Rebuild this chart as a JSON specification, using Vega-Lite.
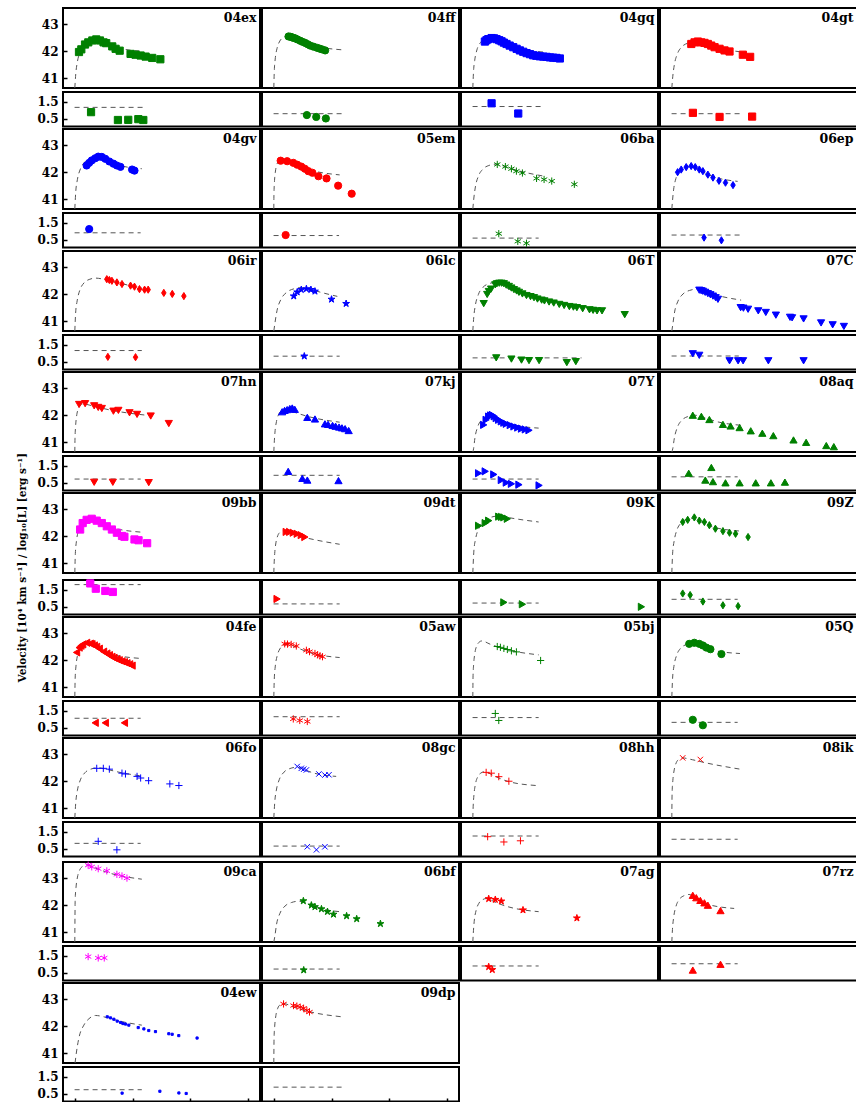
{
"$schema": "https://vega.github.io/schema/vega-lite/v6.json",
"background": "white",
"padding": {"left": 17, "top": 7, "right": 0, "bottom": 0},
"title": {"text": "Velocity [10⁴ km s⁻¹] / log₁₀[L] [erg s⁻¹]", "orient": "left", "anchor": "middle", "font": "DejaVu Serif", "fontSize": 10.5, "fontWeight": "bold", "color": "black", "offset": 9},
"data": {"values": [
{"s":"04ex","k":"m","t":0.2,"y":40.63},{"s":"04ex","k":"m","t":1,"y":41.15},{"s":"04ex","k":"m","t":2.4,"y":41.6},{"s":"04ex","k":"m","t":5,"y":42.0},{"s":"04ex","k":"m","t":9,"y":42.27},{"s":"04ex","k":"m","t":14,"y":42.4},{"s":"04ex","k":"m","t":20,"y":42.45},{"s":"04ex","k":"m","t":28,"y":42.3},{"s":"04ex","k":"m","t":35,"y":42.15},{"s":"04ex","k":"m","t":58,"y":42.0},
{"s":"04ff","k":"m","t":0.2,"y":40.63},{"s":"04ff","k":"m","t":0.6,"y":41.26},{"s":"04ff","k":"m","t":1.4,"y":41.71},{"s":"04ff","k":"m","t":3,"y":42.11},{"s":"04ff","k":"m","t":5.4,"y":42.38},{"s":"04ff","k":"m","t":8.4,"y":42.51},{"s":"04ff","k":"m","t":12,"y":42.56},{"s":"04ff","k":"m","t":20,"y":42.42},{"s":"04ff","k":"m","t":30,"y":42.25},{"s":"04ff","k":"m","t":60,"y":42.05},
{"s":"04gq","k":"m","t":0.2,"y":40.63},{"s":"04gq","k":"m","t":0.75,"y":41.2},{"s":"04gq","k":"m","t":1.8,"y":41.65},{"s":"04gq","k":"m","t":3.75,"y":42.05},{"s":"04gq","k":"m","t":6.75,"y":42.32},{"s":"04gq","k":"m","t":10.5,"y":42.45},{"s":"04gq","k":"m","t":15,"y":42.5},{"s":"04gq","k":"m","t":25,"y":42.32},{"s":"04gq","k":"m","t":35,"y":42.15},{"s":"04gq","k":"m","t":61,"y":41.97},
{"s":"04gt","k":"m","t":0.2,"y":40.63},{"s":"04gt","k":"m","t":1,"y":41.05},{"s":"04gt","k":"m","t":2.4,"y":41.5},{"s":"04gt","k":"m","t":5,"y":41.9},{"s":"04gt","k":"m","t":9,"y":42.17},{"s":"04gt","k":"m","t":14,"y":42.3},{"s":"04gt","k":"m","t":20,"y":42.35},{"s":"04gt","k":"m","t":30,"y":42.25},{"s":"04gt","k":"m","t":40,"y":42.12},{"s":"04gt","k":"m","t":61,"y":41.97},
{"s":"04gv","k":"m","t":0.2,"y":40.63},{"s":"04gv","k":"m","t":1,"y":41.27},{"s":"04gv","k":"m","t":2.4,"y":41.72},{"s":"04gv","k":"m","t":5,"y":42.12},{"s":"04gv","k":"m","t":9,"y":42.39},{"s":"04gv","k":"m","t":14,"y":42.52},{"s":"04gv","k":"m","t":20,"y":42.57},{"s":"04gv","k":"m","t":27,"y":42.47},{"s":"04gv","k":"m","t":35,"y":42.3},{"s":"04gv","k":"m","t":58,"y":42.13},
{"s":"05em","k":"m","t":0.2,"y":40.63},{"s":"05em","k":"m","t":0.3,"y":41.15},{"s":"05em","k":"m","t":0.7,"y":41.6},{"s":"05em","k":"m","t":1.5,"y":42.0},{"s":"05em","k":"m","t":2.7,"y":42.27},{"s":"05em","k":"m","t":4.2,"y":42.4},{"s":"05em","k":"m","t":6,"y":42.45},{"s":"05em","k":"m","t":15,"y":42.35},{"s":"05em","k":"m","t":30,"y":42.1},{"s":"05em","k":"m","t":57,"y":41.9},
{"s":"06ba","k":"m","t":0.2,"y":40.63},{"s":"06ba","k":"m","t":1,"y":41.0},{"s":"06ba","k":"m","t":2.4,"y":41.45},{"s":"06ba","k":"m","t":5,"y":41.85},{"s":"06ba","k":"m","t":9,"y":42.12},{"s":"06ba","k":"m","t":14,"y":42.25},{"s":"06ba","k":"m","t":20,"y":42.3},{"s":"06ba","k":"m","t":30,"y":42.18},{"s":"06ba","k":"m","t":40,"y":42.05},{"s":"06ba","k":"m","t":62,"y":41.85},
{"s":"06ep","k":"m","t":0.2,"y":40.63},{"s":"06ep","k":"m","t":0.75,"y":40.92},{"s":"06ep","k":"m","t":1.8,"y":41.37},{"s":"06ep","k":"m","t":3.75,"y":41.77},{"s":"06ep","k":"m","t":6.75,"y":42.04},{"s":"06ep","k":"m","t":10.5,"y":42.17},{"s":"06ep","k":"m","t":15,"y":42.22},{"s":"06ep","k":"m","t":25,"y":42.05},{"s":"06ep","k":"m","t":35,"y":41.85},{"s":"06ep","k":"m","t":57,"y":41.66},
{"s":"06ir","k":"m","t":0.2,"y":40.63},{"s":"06ir","k":"m","t":0.9,"y":41.3},{"s":"06ir","k":"m","t":2.2,"y":41.75},{"s":"06ir","k":"m","t":4.5,"y":42.15},{"s":"06ir","k":"m","t":8.1,"y":42.42},{"s":"06ir","k":"m","t":12.6,"y":42.55},{"s":"06ir","k":"m","t":18,"y":42.6},{"s":"06ir","k":"m","t":28,"y":42.53},{"s":"06ir","k":"m","t":40,"y":42.4},{"s":"06ir","k":"m","t":58,"y":42.23},
{"s":"06lc","k":"m","t":0.2,"y":40.63},{"s":"06lc","k":"m","t":1.25,"y":40.95},{"s":"06lc","k":"m","t":3,"y":41.4},{"s":"06lc","k":"m","t":6.25,"y":41.8},{"s":"06lc","k":"m","t":11.25,"y":42.07},{"s":"06lc","k":"m","t":17.5,"y":42.2},{"s":"06lc","k":"m","t":25,"y":42.25},{"s":"06lc","k":"m","t":32,"y":42.18},{"s":"06lc","k":"m","t":40,"y":42.08},{"s":"06lc","k":"m","t":55,"y":41.92},
{"s":"06T","k":"m","t":0.2,"y":40.63},{"s":"06T","k":"m","t":1,"y":41.14},{"s":"06T","k":"m","t":2.4,"y":41.59},{"s":"06T","k":"m","t":5,"y":41.99},{"s":"06T","k":"m","t":9,"y":42.26},{"s":"06T","k":"m","t":14,"y":42.39},{"s":"06T","k":"m","t":20,"y":42.44},{"s":"06T","k":"m","t":30,"y":42.22},{"s":"06T","k":"m","t":45,"y":41.97},{"s":"06T","k":"m","t":70,"y":41.7},{"s":"06T","k":"m","t":96,"y":41.5},
{"s":"07C","k":"m","t":0.2,"y":40.63},{"s":"07C","k":"m","t":1.1,"y":40.89},{"s":"07C","k":"m","t":2.6,"y":41.34},{"s":"07C","k":"m","t":5.5,"y":41.74},{"s":"07C","k":"m","t":9.9,"y":42.01},{"s":"07C","k":"m","t":15.4,"y":42.14},{"s":"07C","k":"m","t":22,"y":42.19},{"s":"07C","k":"m","t":30,"y":42.08},{"s":"07C","k":"m","t":40,"y":41.95},{"s":"07C","k":"m","t":60,"y":41.78},
{"s":"07hn","k":"m","t":0.2,"y":40.63},{"s":"07hn","k":"m","t":0.35,"y":41.12},{"s":"07hn","k":"m","t":0.84,"y":41.57},{"s":"07hn","k":"m","t":1.75,"y":41.97},{"s":"07hn","k":"m","t":3.15,"y":42.24},{"s":"07hn","k":"m","t":4.9,"y":42.37},{"s":"07hn","k":"m","t":7,"y":42.42},{"s":"07hn","k":"m","t":18,"y":42.32},{"s":"07hn","k":"m","t":30,"y":42.2},{"s":"07hn","k":"m","t":62,"y":42.0},
{"s":"07kj","k":"m","t":0.2,"y":40.63},{"s":"07kj","k":"m","t":0.5,"y":40.92},{"s":"07kj","k":"m","t":1.2,"y":41.37},{"s":"07kj","k":"m","t":2.5,"y":41.77},{"s":"07kj","k":"m","t":4.5,"y":42.04},{"s":"07kj","k":"m","t":7,"y":42.17},{"s":"07kj","k":"m","t":10,"y":42.22},{"s":"07kj","k":"m","t":20,"y":42.08},{"s":"07kj","k":"m","t":30,"y":41.95},{"s":"07kj","k":"m","t":57,"y":41.74},
{"s":"07Y","k":"m","t":0.3,"y":40.63},{"s":"07Y","k":"m","t":0.85,"y":40.75},{"s":"07Y","k":"m","t":2,"y":41.15},{"s":"07Y","k":"m","t":4.25,"y":41.55},{"s":"07Y","k":"m","t":7.65,"y":41.82},{"s":"07Y","k":"m","t":11.9,"y":41.95},{"s":"07Y","k":"m","t":17,"y":42.0},{"s":"07Y","k":"m","t":25,"y":41.82},{"s":"07Y","k":"m","t":35,"y":41.65},{"s":"07Y","k":"m","t":57,"y":41.52},
{"s":"08aq","k":"m","t":0.3,"y":40.63},{"s":"08aq","k":"m","t":1,"y":40.75},{"s":"08aq","k":"m","t":2.4,"y":41.15},{"s":"08aq","k":"m","t":5,"y":41.55},{"s":"08aq","k":"m","t":9,"y":41.82},{"s":"08aq","k":"m","t":14,"y":41.95},{"s":"08aq","k":"m","t":20,"y":42.0},{"s":"08aq","k":"m","t":30,"y":41.88},{"s":"08aq","k":"m","t":40,"y":41.75},{"s":"08aq","k":"m","t":62,"y":41.62},
{"s":"09bb","k":"m","t":0.2,"y":40.63},{"s":"09bb","k":"m","t":0.65,"y":41.35},{"s":"09bb","k":"m","t":1.56,"y":41.8},{"s":"09bb","k":"m","t":3.25,"y":42.2},{"s":"09bb","k":"m","t":5.85,"y":42.47},{"s":"09bb","k":"m","t":9.1,"y":42.6},{"s":"09bb","k":"m","t":13,"y":42.65},{"s":"09bb","k":"m","t":20,"y":42.52},{"s":"09bb","k":"m","t":30,"y":42.35},{"s":"09bb","k":"m","t":58,"y":42.15},
{"s":"09dt","k":"m","t":0.2,"y":40.63},{"s":"09dt","k":"m","t":0.4,"y":40.9},{"s":"09dt","k":"m","t":0.96,"y":41.35},{"s":"09dt","k":"m","t":2,"y":41.75},{"s":"09dt","k":"m","t":3.6,"y":42.02},{"s":"09dt","k":"m","t":5.6,"y":42.15},{"s":"09dt","k":"m","t":8,"y":42.2},{"s":"09dt","k":"m","t":18,"y":42.05},{"s":"09dt","k":"m","t":30,"y":41.92},{"s":"09dt","k":"m","t":57,"y":41.7},
{"s":"09K","k":"m","t":0.2,"y":40.63},{"s":"09K","k":"m","t":1.1,"y":41.45},{"s":"09K","k":"m","t":2.6,"y":41.9},{"s":"09K","k":"m","t":5.5,"y":42.3},{"s":"09K","k":"m","t":9.9,"y":42.57},{"s":"09K","k":"m","t":15.4,"y":42.7},{"s":"09K","k":"m","t":22,"y":42.75},{"s":"09K","k":"m","t":30,"y":42.7},{"s":"09K","k":"m","t":40,"y":42.63},{"s":"09K","k":"m","t":57,"y":42.53},
{"s":"09Z","k":"m","t":0.2,"y":40.63},{"s":"09Z","k":"m","t":0.9,"y":41.37},{"s":"09Z","k":"m","t":2.2,"y":41.82},{"s":"09Z","k":"m","t":4.5,"y":42.22},{"s":"09Z","k":"m","t":8.1,"y":42.49},{"s":"09Z","k":"m","t":12.6,"y":42.62},{"s":"09Z","k":"m","t":18,"y":42.67},{"s":"09Z","k":"m","t":26,"y":42.52},{"s":"09Z","k":"m","t":35,"y":42.35},{"s":"09Z","k":"m","t":60,"y":42.19},
{"s":"04fe","k":"m","t":0.2,"y":40.63},{"s":"04fe","k":"m","t":0.5,"y":41.33},{"s":"04fe","k":"m","t":1.2,"y":41.78},{"s":"04fe","k":"m","t":2.5,"y":42.18},{"s":"04fe","k":"m","t":4.5,"y":42.45},{"s":"04fe","k":"m","t":7,"y":42.58},{"s":"04fe","k":"m","t":10,"y":42.63},{"s":"04fe","k":"m","t":20,"y":42.45},{"s":"04fe","k":"m","t":30,"y":42.25},{"s":"04fe","k":"m","t":56,"y":42.07},
{"s":"05aw","k":"m","t":0.2,"y":40.63},{"s":"05aw","k":"m","t":0.6,"y":41.3},{"s":"05aw","k":"m","t":1.4,"y":41.75},{"s":"05aw","k":"m","t":3,"y":42.15},{"s":"05aw","k":"m","t":5.4,"y":42.42},{"s":"05aw","k":"m","t":8.4,"y":42.55},{"s":"05aw","k":"m","t":12,"y":42.6},{"s":"05aw","k":"m","t":20,"y":42.47},{"s":"05aw","k":"m","t":30,"y":42.3},{"s":"05aw","k":"m","t":57,"y":42.1},
{"s":"05bj","k":"m","t":0.2,"y":40.63},{"s":"05bj","k":"m","t":0.4,"y":41.42},{"s":"05bj","k":"m","t":0.96,"y":41.87},{"s":"05bj","k":"m","t":2,"y":42.27},{"s":"05bj","k":"m","t":3.6,"y":42.54},{"s":"05bj","k":"m","t":5.6,"y":42.67},{"s":"05bj","k":"m","t":8,"y":42.72},{"s":"05bj","k":"m","t":15,"y":42.6},{"s":"05bj","k":"m","t":25,"y":42.45},{"s":"05bj","k":"m","t":57,"y":42.2},
{"s":"05Q","k":"m","t":0.2,"y":40.63},{"s":"05Q","k":"m","t":0.85,"y":41.32},{"s":"05Q","k":"m","t":2,"y":41.77},{"s":"05Q","k":"m","t":4.25,"y":42.17},{"s":"05Q","k":"m","t":7.65,"y":42.44},{"s":"05Q","k":"m","t":11.9,"y":42.57},{"s":"05Q","k":"m","t":17,"y":42.62},{"s":"05Q","k":"m","t":25,"y":42.52},{"s":"05Q","k":"m","t":35,"y":42.38},{"s":"05Q","k":"m","t":59,"y":42.25},
{"s":"06fo","k":"m","t":0.2,"y":40.63},{"s":"06fo","k":"m","t":1,"y":41.2},{"s":"06fo","k":"m","t":2.4,"y":41.65},{"s":"06fo","k":"m","t":5,"y":42.05},{"s":"06fo","k":"m","t":9,"y":42.32},{"s":"06fo","k":"m","t":14,"y":42.45},{"s":"06fo","k":"m","t":20,"y":42.5},{"s":"06fo","k":"m","t":30,"y":42.42},{"s":"06fo","k":"m","t":40,"y":42.32},{"s":"06fo","k":"m","t":57,"y":42.2},
{"s":"08gc","k":"m","t":0.2,"y":40.63},{"s":"08gc","k":"m","t":1,"y":41.22},{"s":"08gc","k":"m","t":2.4,"y":41.67},{"s":"08gc","k":"m","t":5,"y":42.07},{"s":"08gc","k":"m","t":9,"y":42.34},{"s":"08gc","k":"m","t":14,"y":42.47},{"s":"08gc","k":"m","t":20,"y":42.52},{"s":"08gc","k":"m","t":27,"y":42.42},{"s":"08gc","k":"m","t":35,"y":42.3},{"s":"08gc","k":"m","t":54,"y":42.18},
{"s":"08hh","k":"m","t":0.2,"y":40.63},{"s":"08hh","k":"m","t":0.5,"y":41.05},{"s":"08hh","k":"m","t":1.2,"y":41.5},{"s":"08hh","k":"m","t":2.5,"y":41.9},{"s":"08hh","k":"m","t":4.5,"y":42.17},{"s":"08hh","k":"m","t":7,"y":42.3},{"s":"08hh","k":"m","t":10,"y":42.35},{"s":"08hh","k":"m","t":20,"y":42.17},{"s":"08hh","k":"m","t":30,"y":42.0},{"s":"08hh","k":"m","t":55,"y":41.84},
{"s":"08ik","k":"m","t":0.2,"y":40.63},{"s":"08ik","k":"m","t":0.45,"y":41.57},{"s":"08ik","k":"m","t":1.08,"y":42.02},{"s":"08ik","k":"m","t":2.25,"y":42.42},{"s":"08ik","k":"m","t":4.05,"y":42.69},{"s":"08ik","k":"m","t":6.3,"y":42.82},{"s":"08ik","k":"m","t":9,"y":42.87},{"s":"08ik","k":"m","t":18,"y":42.8},{"s":"08ik","k":"m","t":30,"y":42.68},{"s":"08ik","k":"m","t":59,"y":42.45},
{"s":"09ca","k":"m","t":0.2,"y":40.63},{"s":"09ca","k":"m","t":0.5,"y":42.2},{"s":"09ca","k":"m","t":1.2,"y":42.65},{"s":"09ca","k":"m","t":2.5,"y":43.05},{"s":"09ca","k":"m","t":4.5,"y":43.32},{"s":"09ca","k":"m","t":7,"y":43.45},{"s":"09ca","k":"m","t":10,"y":43.5},{"s":"09ca","k":"m","t":20,"y":43.35},{"s":"09ca","k":"m","t":30,"y":43.2},{"s":"09ca","k":"m","t":58,"y":42.97},
{"s":"06bf","k":"m","t":0.2,"y":40.63},{"s":"06bf","k":"m","t":1.1,"y":40.85},{"s":"06bf","k":"m","t":2.6,"y":41.3},{"s":"06bf","k":"m","t":5.5,"y":41.7},{"s":"06bf","k":"m","t":9.9,"y":41.97},{"s":"06bf","k":"m","t":15.4,"y":42.1},{"s":"06bf","k":"m","t":22,"y":42.15},{"s":"06bf","k":"m","t":30,"y":42.03},{"s":"06bf","k":"m","t":40,"y":41.88},{"s":"06bf","k":"m","t":57,"y":41.76},
{"s":"07ag","k":"m","t":0.2,"y":40.63},{"s":"07ag","k":"m","t":0.6,"y":40.95},{"s":"07ag","k":"m","t":1.4,"y":41.4},{"s":"07ag","k":"m","t":3,"y":41.8},{"s":"07ag","k":"m","t":5.4,"y":42.07},{"s":"07ag","k":"m","t":8.4,"y":42.2},{"s":"07ag","k":"m","t":12,"y":42.25},{"s":"07ag","k":"m","t":20,"y":42.1},{"s":"07ag","k":"m","t":30,"y":41.95},{"s":"07ag","k":"m","t":57,"y":41.76},
{"s":"07rz","k":"m","t":0.2,"y":40.63},{"s":"07rz","k":"m","t":0.75,"y":41.1},{"s":"07rz","k":"m","t":1.8,"y":41.55},{"s":"07rz","k":"m","t":3.75,"y":41.95},{"s":"07rz","k":"m","t":6.75,"y":42.22},{"s":"07rz","k":"m","t":10.5,"y":42.35},{"s":"07rz","k":"m","t":15,"y":42.4},{"s":"07rz","k":"m","t":22,"y":42.22},{"s":"07rz","k":"m","t":30,"y":42.05},{"s":"07rz","k":"m","t":54,"y":41.88},
{"s":"04ew","k":"m","t":0.4,"y":40.63},{"s":"04ew","k":"m","t":1.5,"y":41.0},{"s":"04ew","k":"m","t":3.7,"y":41.56},{"s":"04ew","k":"m","t":8,"y":42.04},{"s":"04ew","k":"m","t":12.4,"y":42.28},{"s":"04ew","k":"m","t":18,"y":42.4},{"s":"04ew","k":"m","t":28,"y":42.32},{"s":"04ew","k":"m","t":38,"y":42.2},{"s":"04ew","k":"m","t":58,"y":42.04},
{"s":"09dp","k":"m","t":0.2,"y":40.63},{"s":"09dp","k":"m","t":0.4,"y":41.55},{"s":"09dp","k":"m","t":0.96,"y":42.0},{"s":"09dp","k":"m","t":2,"y":42.4},{"s":"09dp","k":"m","t":3.6,"y":42.67},{"s":"09dp","k":"m","t":5.6,"y":42.8},{"s":"09dp","k":"m","t":8,"y":42.85},{"s":"09dp","k":"m","t":18,"y":42.7},{"s":"09dp","k":"m","t":30,"y":42.55},{"s":"09dp","k":"m","t":59,"y":42.35},
{"s":"04ex","k":"vm","t":0,"y":1.17},{"s":"04ex","k":"vm","t":61,"y":1.17},
{"s":"04ff","k":"vm","t":0,"y":0.8},{"s":"04ff","k":"vm","t":59,"y":0.8},
{"s":"04gq","k":"vm","t":0,"y":1.22},{"s":"04gq","k":"vm","t":59.5,"y":1.22},
{"s":"04gt","k":"vm","t":0,"y":0.8},{"s":"04gt","k":"vm","t":59,"y":0.8},
{"s":"04gv","k":"vm","t":0,"y":0.91},{"s":"04gv","k":"vm","t":57,"y":0.91},
{"s":"05em","k":"vm","t":0,"y":0.75},{"s":"05em","k":"vm","t":56.5,"y":0.75},
{"s":"06ba","k":"vm","t":0,"y":0.6},{"s":"06ba","k":"vm","t":57,"y":0.6},
{"s":"06ep","k":"vm","t":0,"y":0.78},{"s":"06ep","k":"vm","t":58.7,"y":0.78},
{"s":"06ir","k":"vm","t":0,"y":1.16},{"s":"06ir","k":"vm","t":58,"y":1.16},
{"s":"06lc","k":"vm","t":0,"y":0.83},{"s":"06lc","k":"vm","t":57,"y":0.83},
{"s":"06T","k":"vm","t":0,"y":0.73},{"s":"06T","k":"vm","t":94,"y":0.73},
{"s":"07C","k":"vm","t":0,"y":0.84},{"s":"07C","k":"vm","t":58,"y":0.84},
{"s":"07hn","k":"vm","t":0,"y":0.72},{"s":"07hn","k":"vm","t":57,"y":0.72},
{"s":"07kj","k":"vm","t":0,"y":0.94},{"s":"07kj","k":"vm","t":57,"y":0.94},
{"s":"07Y","k":"vm","t":0,"y":0.72},{"s":"07Y","k":"vm","t":57,"y":0.72},
{"s":"08aq","k":"vm","t":0,"y":0.85},{"s":"08aq","k":"vm","t":57,"y":0.85},
{"s":"09bb","k":"vm","t":0,"y":1.8},{"s":"09bb","k":"vm","t":57,"y":1.8},
{"s":"09dt","k":"vm","t":0,"y":0.67},{"s":"09dt","k":"vm","t":57,"y":0.67},
{"s":"09K","k":"vm","t":0,"y":0.72},{"s":"09K","k":"vm","t":57,"y":0.72},
{"s":"09Z","k":"vm","t":0,"y":0.94},{"s":"09Z","k":"vm","t":57,"y":0.94},
{"s":"04fe","k":"vm","t":0,"y":1.06},{"s":"04fe","k":"vm","t":57,"y":1.06},
{"s":"05aw","k":"vm","t":0,"y":1.15},{"s":"05aw","k":"vm","t":57,"y":1.15},
{"s":"05bj","k":"vm","t":0,"y":1.1},{"s":"05bj","k":"vm","t":57,"y":1.1},
{"s":"05Q","k":"vm","t":0,"y":0.82},{"s":"05Q","k":"vm","t":57,"y":0.82},
{"s":"06fo","k":"vm","t":0,"y":0.82},{"s":"06fo","k":"vm","t":57,"y":0.82},
{"s":"08gc","k":"vm","t":0,"y":0.66},{"s":"08gc","k":"vm","t":57,"y":0.66},
{"s":"08hh","k":"vm","t":0,"y":1.25},{"s":"08hh","k":"vm","t":57,"y":1.25},
{"s":"08ik","k":"vm","t":0,"y":1.06},{"s":"08ik","k":"vm","t":57,"y":1.06},
{"s":"06bf","k":"vm","t":0,"y":0.72},{"s":"06bf","k":"vm","t":57,"y":0.72},
{"s":"07ag","k":"vm","t":0,"y":0.9},{"s":"07ag","k":"vm","t":57,"y":0.9},
{"s":"07rz","k":"vm","t":0,"y":1.03},{"s":"07rz","k":"vm","t":57,"y":1.03},
{"s":"04ew","k":"vm","t":0,"y":0.74},{"s":"04ew","k":"vm","t":58,"y":0.74},
{"s":"09dp","k":"vm","t":0,"y":0.89},{"s":"09dp","k":"vm","t":59,"y":0.89},
{"s":"04ex","k":"d","t":3.8,"y":41.97},{"s":"04ex","k":"d","t":5.8,"y":42.07},{"s":"04ex","k":"d","t":9,"y":42.25},{"s":"04ex","k":"d","t":11.8,"y":42.33},{"s":"04ex","k":"d","t":15.3,"y":42.4},{"s":"04ex","k":"d","t":18.7,"y":42.44},{"s":"04ex","k":"d","t":21.9,"y":42.4},{"s":"04ex","k":"d","t":25,"y":42.33},{"s":"04ex","k":"d","t":27.3,"y":42.3},{"s":"04ex","k":"d","t":32.5,"y":42.18},{"s":"04ex","k":"d","t":35.4,"y":42.09},{"s":"04ex","k":"d","t":38.9,"y":42.02},{"s":"04ex","k":"d","t":48.3,"y":41.9},{"s":"04ex","k":"d","t":52.6,"y":41.87},{"s":"04ex","k":"d","t":57,"y":41.84},{"s":"04ex","k":"d","t":61.3,"y":41.8},{"s":"04ex","k":"d","t":67,"y":41.75},{"s":"04ex","k":"d","t":74,"y":41.7},
{"s":"04ex","k":"vd","t":14.2,"y":0.89},{"s":"04ex","k":"vd","t":37.4,"y":0.43},{"s":"04ex","k":"vd","t":46.3,"y":0.44},{"s":"04ex","k":"vd","t":55,"y":0.48},{"s":"04ex","k":"vd","t":59.3,"y":0.43},
{"s":"04ff","k":"d","t":12.9,"y":42.55},{"s":"04ff","k":"d","t":14.5,"y":42.54},{"s":"04ff","k":"d","t":15.8,"y":42.52},{"s":"04ff","k":"d","t":17,"y":42.5},{"s":"04ff","k":"d","t":18.7,"y":42.48},{"s":"04ff","k":"d","t":20.5,"y":42.44},{"s":"04ff","k":"d","t":23,"y":42.39},{"s":"04ff","k":"d","t":25,"y":42.35},{"s":"04ff","k":"d","t":27.3,"y":42.31},{"s":"04ff","k":"d","t":29.5,"y":42.26},{"s":"04ff","k":"d","t":31.6,"y":42.21},{"s":"04ff","k":"d","t":34.5,"y":42.17},{"s":"04ff","k":"d","t":37.4,"y":42.13},{"s":"04ff","k":"d","t":39.5,"y":42.1},{"s":"04ff","k":"d","t":41.7,"y":42.07},{"s":"04ff","k":"d","t":44.5,"y":42.03},
{"s":"04ff","k":"vd","t":28.7,"y":0.72},{"s":"04ff","k":"vd","t":36.8,"y":0.61},{"s":"04ff","k":"vd","t":45.1,"y":0.52},
{"s":"04gq","k":"d","t":10.6,"y":42.36},{"s":"04gq","k":"d","t":12,"y":42.41},{"s":"04gq","k":"d","t":13.5,"y":42.45},{"s":"04gq","k":"d","t":16.4,"y":42.49},{"s":"04gq","k":"d","t":18.5,"y":42.48},{"s":"04gq","k":"d","t":20.7,"y":42.45},{"s":"04gq","k":"d","t":23,"y":42.41},{"s":"04gq","k":"d","t":25,"y":42.37},{"s":"04gq","k":"d","t":27,"y":42.32},{"s":"04gq","k":"d","t":29.3,"y":42.27},{"s":"04gq","k":"d","t":32,"y":42.21},{"s":"04gq","k":"d","t":35.1,"y":42.15},{"s":"04gq","k":"d","t":38,"y":42.09},{"s":"04gq","k":"d","t":40.8,"y":42.03},{"s":"04gq","k":"d","t":43.7,"y":41.98},{"s":"04gq","k":"d","t":46.6,"y":41.93},{"s":"04gq","k":"d","t":49.5,"y":41.89},{"s":"04gq","k":"d","t":52.3,"y":41.85},{"s":"04gq","k":"d","t":55,"y":41.83},{"s":"04gq","k":"d","t":58,"y":41.81},{"s":"04gq","k":"d","t":61,"y":41.8},{"s":"04gq","k":"d","t":63.8,"y":41.79},{"s":"04gq","k":"d","t":66.7,"y":41.77},{"s":"04gq","k":"d","t":69.5,"y":41.76},{"s":"04gq","k":"d","t":72.4,"y":41.75},{"s":"04gq","k":"d","t":75.3,"y":41.73},
{"s":"04gq","k":"vd","t":16.4,"y":1.41},{"s":"04gq","k":"vd","t":39.4,"y":0.81},
{"s":"04gt","k":"d","t":17,"y":42.27},{"s":"04gt","k":"d","t":19.8,"y":42.33},{"s":"04gt","k":"d","t":22.7,"y":42.36},{"s":"04gt","k":"d","t":25.6,"y":42.33},{"s":"04gt","k":"d","t":28.4,"y":42.31},{"s":"04gt","k":"d","t":31.3,"y":42.27},{"s":"04gt","k":"d","t":34.2,"y":42.21},{"s":"04gt","k":"d","t":37.1,"y":42.15},{"s":"04gt","k":"d","t":41.4,"y":42.09},{"s":"04gt","k":"d","t":45.7,"y":42.03},{"s":"04gt","k":"d","t":50,"y":41.99},{"s":"04gt","k":"d","t":61.5,"y":41.87},{"s":"04gt","k":"d","t":67.8,"y":41.79},
{"s":"04gt","k":"vd","t":18.4,"y":0.85},{"s":"04gt","k":"vd","t":41.4,"y":0.61},{"s":"04gt","k":"vd","t":69.5,"y":0.63},
{"s":"04gv","k":"d","t":10.4,"y":42.25},{"s":"04gv","k":"d","t":12.6,"y":42.35},{"s":"04gv","k":"d","t":14.8,"y":42.44},{"s":"04gv","k":"d","t":17.8,"y":42.52},{"s":"04gv","k":"d","t":20.4,"y":42.58},{"s":"04gv","k":"d","t":23.5,"y":42.57},{"s":"04gv","k":"d","t":26.5,"y":42.5},{"s":"04gv","k":"d","t":30,"y":42.4},{"s":"04gv","k":"d","t":33.5,"y":42.32},{"s":"04gv","k":"d","t":36.5,"y":42.25},{"s":"04gv","k":"d","t":39.6,"y":42.2},{"s":"04gv","k":"d","t":49.6,"y":42.1},{"s":"04gv","k":"d","t":51.7,"y":42.06},
{"s":"04gv","k":"vd","t":12.6,"y":1.13},
{"s":"05em","k":"d","t":6.1,"y":42.43},{"s":"05em","k":"d","t":11.7,"y":42.41},{"s":"05em","k":"d","t":17,"y":42.35},{"s":"05em","k":"d","t":20.4,"y":42.28},{"s":"05em","k":"d","t":23.9,"y":42.21},{"s":"05em","k":"d","t":27,"y":42.13},{"s":"05em","k":"d","t":30,"y":42.04},{"s":"05em","k":"d","t":33.5,"y":41.98},{"s":"05em","k":"d","t":38.7,"y":41.85},{"s":"05em","k":"d","t":45.7,"y":41.77},{"s":"05em","k":"d","t":55.7,"y":41.5},{"s":"05em","k":"d","t":67.4,"y":41.2},
{"s":"05em","k":"vd","t":10.4,"y":0.78},
{"s":"06ba","k":"d","t":21.3,"y":42.29},{"s":"06ba","k":"d","t":28.3,"y":42.21},{"s":"06ba","k":"d","t":33.5,"y":42.13},{"s":"06ba","k":"d","t":37.8,"y":42.04},{"s":"06ba","k":"d","t":43,"y":41.97},{"s":"06ba","k":"d","t":55.2,"y":41.77},{"s":"06ba","k":"d","t":61.7,"y":41.73},{"s":"06ba","k":"d","t":68.3,"y":41.67},{"s":"06ba","k":"d","t":87.8,"y":41.55},
{"s":"06ba","k":"vd","t":22.6,"y":0.86},{"s":"06ba","k":"vd","t":39,"y":0.41},{"s":"06ba","k":"vd","t":46.5,"y":0.3},
{"s":"06ep","k":"d","t":5.2,"y":42.0},{"s":"06ep","k":"d","t":8.3,"y":42.1},{"s":"06ep","k":"d","t":12.6,"y":42.19},{"s":"06ep","k":"d","t":16.9,"y":42.23},{"s":"06ep","k":"d","t":20.4,"y":42.19},{"s":"06ep","k":"d","t":23.9,"y":42.1},{"s":"06ep","k":"d","t":27,"y":42.04},{"s":"06ep","k":"d","t":31.3,"y":41.91},{"s":"06ep","k":"d","t":35.7,"y":41.8},{"s":"06ep","k":"d","t":40.9,"y":41.68},{"s":"06ep","k":"d","t":46.5,"y":41.61},{"s":"06ep","k":"d","t":53,"y":41.52},
{"s":"06ep","k":"vd","t":28,"y":0.63},{"s":"06ep","k":"vd","t":43,"y":0.47},
{"s":"06ir","k":"d","t":27.8,"y":42.56},{"s":"06ir","k":"d","t":30,"y":42.53},{"s":"06ir","k":"d","t":32.2,"y":42.5},{"s":"06ir","k":"d","t":36.5,"y":42.44},{"s":"06ir","k":"d","t":40.9,"y":42.38},{"s":"06ir","k":"d","t":48.3,"y":42.32},{"s":"06ir","k":"d","t":51.7,"y":42.28},{"s":"06ir","k":"d","t":56,"y":42.19},{"s":"06ir","k":"d","t":60.4,"y":42.17},{"s":"06ir","k":"d","t":63.5,"y":42.17},{"s":"06ir","k":"d","t":77,"y":42.05},{"s":"06ir","k":"d","t":84.3,"y":42.01},{"s":"06ir","k":"d","t":94.3,"y":41.93},
{"s":"06ir","k":"vd","t":28.7,"y":0.79},{"s":"06ir","k":"vd","t":52.6,"y":0.77},
{"s":"06lc","k":"d","t":17.4,"y":41.93},{"s":"06lc","k":"d","t":20.4,"y":42.08},{"s":"06lc","k":"d","t":23.9,"y":42.17},{"s":"06lc","k":"d","t":28.3,"y":42.2},{"s":"06lc","k":"d","t":32.2,"y":42.17},{"s":"06lc","k":"d","t":35.7,"y":42.11},{"s":"06lc","k":"d","t":50,"y":41.81},{"s":"06lc","k":"d","t":62.6,"y":41.65},
{"s":"06lc","k":"vd","t":26.5,"y":0.83},
{"s":"06T","k":"d","t":9.6,"y":41.65},{"s":"06T","k":"d","t":12.6,"y":41.99},{"s":"06T","k":"d","t":14,"y":42.1},{"s":"06T","k":"d","t":16,"y":42.19},{"s":"06T","k":"d","t":19.6,"y":42.35},{"s":"06T","k":"d","t":21,"y":42.39},{"s":"06T","k":"d","t":23,"y":42.41},{"s":"06T","k":"d","t":25,"y":42.41},{"s":"06T","k":"d","t":27,"y":42.39},{"s":"06T","k":"d","t":29,"y":42.34},{"s":"06T","k":"d","t":31.3,"y":42.29},{"s":"06T","k":"d","t":33.5,"y":42.23},{"s":"06T","k":"d","t":35.7,"y":42.17},{"s":"06T","k":"d","t":38,"y":42.12},{"s":"06T","k":"d","t":40,"y":42.07},{"s":"06T","k":"d","t":43,"y":42.01},{"s":"06T","k":"d","t":46.5,"y":41.95},{"s":"06T","k":"d","t":50,"y":41.91},{"s":"06T","k":"d","t":53,"y":41.87},{"s":"06T","k":"d","t":56,"y":41.82},{"s":"06T","k":"d","t":59.6,"y":41.78},{"s":"06T","k":"d","t":62,"y":41.75},{"s":"06T","k":"d","t":66,"y":41.71},{"s":"06T","k":"d","t":70,"y":41.67},{"s":"06T","k":"d","t":74.8,"y":41.62},{"s":"06T","k":"d","t":79,"y":41.58},{"s":"06T","k":"d","t":83.5,"y":41.54},{"s":"06T","k":"d","t":87,"y":41.52},{"s":"06T","k":"d","t":90,"y":41.5},{"s":"06T","k":"d","t":95,"y":41.46},{"s":"06T","k":"d","t":100.9,"y":41.42},{"s":"06T","k":"d","t":104,"y":41.4},{"s":"06T","k":"d","t":107.4,"y":41.38},{"s":"06T","k":"d","t":111.7,"y":41.38},{"s":"06T","k":"d","t":131.3,"y":41.24},
{"s":"06T","k":"vd","t":20.4,"y":0.73},{"s":"06T","k":"vd","t":33.5,"y":0.66},{"s":"06T","k":"vd","t":42.2,"y":0.6},{"s":"06T","k":"vd","t":48.7,"y":0.57},{"s":"06T","k":"vd","t":57.4,"y":0.57},{"s":"06T","k":"vd","t":81.3,"y":0.45},{"s":"06T","k":"vd","t":89.1,"y":0.51},
{"s":"07C","k":"d","t":23.9,"y":42.15},{"s":"07C","k":"d","t":25.5,"y":42.13},{"s":"07C","k":"d","t":27,"y":42.11},{"s":"07C","k":"d","t":29,"y":42.07},{"s":"07C","k":"d","t":31.3,"y":42.02},{"s":"07C","k":"d","t":33.5,"y":41.98},{"s":"07C","k":"d","t":35.7,"y":41.93},{"s":"07C","k":"d","t":38,"y":41.87},{"s":"07C","k":"d","t":40,"y":41.81},{"s":"07C","k":"d","t":59.6,"y":41.5},{"s":"07C","k":"d","t":62,"y":41.48},{"s":"07C","k":"d","t":66,"y":41.44},{"s":"07C","k":"d","t":74.8,"y":41.38},{"s":"07C","k":"d","t":81.3,"y":41.32},{"s":"07C","k":"d","t":90,"y":41.22},{"s":"07C","k":"d","t":102.2,"y":41.14},{"s":"07C","k":"d","t":104,"y":41.12},{"s":"07C","k":"d","t":113.9,"y":41.08},{"s":"07C","k":"d","t":129,"y":40.93},{"s":"07C","k":"d","t":139,"y":40.86},{"s":"07C","k":"d","t":148.7,"y":40.8},
{"s":"07C","k":"vd","t":18.3,"y":0.97},{"s":"07C","k":"vd","t":23.9,"y":0.88},{"s":"07C","k":"vd","t":50,"y":0.56},{"s":"07C","k":"vd","t":57.4,"y":0.56},{"s":"07C","k":"vd","t":61.7,"y":0.56},{"s":"07C","k":"vd","t":83.5,"y":0.56},{"s":"07C","k":"vd","t":113.9,"y":0.56},
{"s":"07hn","k":"d","t":3.9,"y":42.4},{"s":"07hn","k":"d","t":9.1,"y":42.43},{"s":"07hn","k":"d","t":16.9,"y":42.35},{"s":"07hn","k":"d","t":20.4,"y":42.29},{"s":"07hn","k":"d","t":23.5,"y":42.25},{"s":"07hn","k":"d","t":33.5,"y":42.15},{"s":"07hn","k":"d","t":37.8,"y":42.18},{"s":"07hn","k":"d","t":47.4,"y":42.09},{"s":"07hn","k":"d","t":53.9,"y":42.03},{"s":"07hn","k":"d","t":65.7,"y":41.97},{"s":"07hn","k":"d","t":81.3,"y":41.69},
{"s":"07hn","k":"vd","t":16.9,"y":0.53},{"s":"07hn","k":"vd","t":33,"y":0.53},{"s":"07hn","k":"vd","t":64,"y":0.51},
{"s":"07kj","k":"d","t":7.4,"y":42.13},{"s":"07kj","k":"d","t":9.5,"y":42.18},{"s":"07kj","k":"d","t":11.7,"y":42.21},{"s":"07kj","k":"d","t":14,"y":42.25},{"s":"07kj","k":"d","t":16.1,"y":42.27},{"s":"07kj","k":"d","t":18.3,"y":42.22},{"s":"07kj","k":"d","t":29.1,"y":41.92},{"s":"07kj","k":"d","t":35.7,"y":41.86},{"s":"07kj","k":"d","t":44.3,"y":41.68},{"s":"07kj","k":"d","t":47,"y":41.66},{"s":"07kj","k":"d","t":50.9,"y":41.62},{"s":"07kj","k":"d","t":53.5,"y":41.59},{"s":"07kj","k":"d","t":56.5,"y":41.56},{"s":"07kj","k":"d","t":59,"y":41.53},{"s":"07kj","k":"d","t":61.7,"y":41.5},{"s":"07kj","k":"d","t":64.8,"y":41.43},
{"s":"07kj","k":"vd","t":12.6,"y":1.17},{"s":"07kj","k":"vd","t":24.8,"y":0.76},{"s":"07kj","k":"vd","t":29.1,"y":0.66},{"s":"07kj","k":"vd","t":56,"y":0.63},
{"s":"07Y","k":"d","t":9.6,"y":41.64},{"s":"07Y","k":"d","t":11.7,"y":41.83},{"s":"07Y","k":"d","t":13.9,"y":41.95},{"s":"07Y","k":"d","t":15.5,"y":41.99},{"s":"07Y","k":"d","t":17,"y":42.01},{"s":"07Y","k":"d","t":18.7,"y":41.96},{"s":"07Y","k":"d","t":20.4,"y":41.89},{"s":"07Y","k":"d","t":22.5,"y":41.83},{"s":"07Y","k":"d","t":24.8,"y":41.77},{"s":"07Y","k":"d","t":27,"y":41.72},{"s":"07Y","k":"d","t":29.1,"y":41.68},{"s":"07Y","k":"d","t":32.5,"y":41.63},{"s":"07Y","k":"d","t":35.7,"y":41.58},{"s":"07Y","k":"d","t":39,"y":41.54},{"s":"07Y","k":"d","t":42.2,"y":41.5},{"s":"07Y","k":"d","t":45.5,"y":41.47},{"s":"07Y","k":"d","t":48.7,"y":41.44},
{"s":"07Y","k":"vd","t":5.2,"y":1.06},{"s":"07Y","k":"vd","t":10.9,"y":1.17},{"s":"07Y","k":"vd","t":18.3,"y":0.99},{"s":"07Y","k":"vd","t":24.8,"y":0.66},{"s":"07Y","k":"vd","t":29.1,"y":0.51},{"s":"07Y","k":"vd","t":33.5,"y":0.44},{"s":"07Y","k":"vd","t":40,"y":0.39},{"s":"07Y","k":"vd","t":57.4,"y":0.35},
{"s":"08aq","k":"d","t":18.3,"y":42.0},{"s":"08aq","k":"d","t":25.7,"y":41.96},{"s":"08aq","k":"d","t":32.6,"y":41.84},{"s":"08aq","k":"d","t":44.3,"y":41.66},{"s":"08aq","k":"d","t":50.9,"y":41.6},{"s":"08aq","k":"d","t":58.7,"y":41.54},{"s":"08aq","k":"d","t":68.3,"y":41.42},{"s":"08aq","k":"d","t":78.3,"y":41.33},{"s":"08aq","k":"d","t":87.8,"y":41.24},{"s":"08aq","k":"d","t":105.2,"y":41.08},{"s":"08aq","k":"d","t":116.1,"y":40.99},{"s":"08aq","k":"d","t":133.5,"y":40.87},{"s":"08aq","k":"d","t":140,"y":40.83},
{"s":"08aq","k":"vd","t":14.8,"y":1.06},{"s":"08aq","k":"vd","t":29.1,"y":0.66},{"s":"08aq","k":"vd","t":34.3,"y":1.4},{"s":"08aq","k":"vd","t":35.7,"y":0.57},{"s":"08aq","k":"vd","t":46.5,"y":0.5},{"s":"08aq","k":"vd","t":58.7,"y":0.5},{"s":"08aq","k":"vd","t":72.6,"y":0.5},{"s":"08aq","k":"vd","t":85.7,"y":0.5},{"s":"08aq","k":"vd","t":97.8,"y":0.54},
{"s":"09bb","k":"d","t":4.8,"y":42.25},{"s":"09bb","k":"d","t":7,"y":42.49},{"s":"09bb","k":"d","t":10.4,"y":42.61},{"s":"09bb","k":"d","t":14.8,"y":42.65},{"s":"09bb","k":"d","t":19.1,"y":42.58},{"s":"09bb","k":"d","t":23.5,"y":42.49},{"s":"09bb","k":"d","t":27.8,"y":42.37},{"s":"09bb","k":"d","t":32.2,"y":42.25},{"s":"09bb","k":"d","t":36.5,"y":42.13},{"s":"09bb","k":"d","t":40.9,"y":42.01},{"s":"09bb","k":"d","t":43,"y":41.98},{"s":"09bb","k":"d","t":51.7,"y":41.88},{"s":"09bb","k":"d","t":55.2,"y":41.85},{"s":"09bb","k":"d","t":62.6,"y":41.74},
{"s":"09bb","k":"vd","t":13.5,"y":1.87},{"s":"09bb","k":"vd","t":18.3,"y":1.56},{"s":"09bb","k":"vd","t":26.5,"y":1.43},{"s":"09bb","k":"vd","t":33,"y":1.37},
{"s":"09dt","k":"d","t":10.9,"y":42.16},{"s":"09dt","k":"d","t":13.9,"y":42.16},{"s":"09dt","k":"d","t":17,"y":42.13},{"s":"09dt","k":"d","t":20.4,"y":42.09},{"s":"09dt","k":"d","t":23.9,"y":42.04},{"s":"09dt","k":"d","t":27,"y":41.97},
{"s":"09dt","k":"vd","t":3,"y":0.96},
{"s":"09K","k":"d","t":5.2,"y":42.39},{"s":"09K","k":"d","t":10.9,"y":42.49},{"s":"09K","k":"d","t":13.9,"y":42.58},{"s":"09K","k":"d","t":22.6,"y":42.73},{"s":"09K","k":"d","t":25,"y":42.72},{"s":"09K","k":"d","t":27,"y":42.7},{"s":"09K","k":"d","t":30,"y":42.65},
{"s":"09K","k":"vd","t":27,"y":0.76},{"s":"09K","k":"vd","t":43,"y":0.65},{"s":"09K","k":"vd","t":145.7,"y":0.5},
{"s":"09Z","k":"d","t":9.6,"y":42.53},{"s":"09Z","k":"d","t":13.9,"y":42.61},{"s":"09Z","k":"d","t":19.6,"y":42.7},{"s":"09Z","k":"d","t":23.9,"y":42.58},{"s":"09Z","k":"d","t":28.3,"y":42.53},{"s":"09Z","k":"d","t":32.6,"y":42.41},{"s":"09Z","k":"d","t":37.8,"y":42.28},{"s":"09Z","k":"d","t":44.3,"y":42.19},{"s":"09Z","k":"d","t":50,"y":42.13},{"s":"09Z","k":"d","t":55.2,"y":42.09},{"s":"09Z","k":"d","t":66,"y":41.97},
{"s":"09Z","k":"vd","t":9.6,"y":1.28},{"s":"09Z","k":"vd","t":16,"y":1.19},{"s":"09Z","k":"vd","t":27,"y":0.81},{"s":"09Z","k":"vd","t":44.3,"y":0.59},{"s":"09Z","k":"vd","t":57.4,"y":0.54},
{"s":"04fe","k":"d","t":1.7,"y":42.29},{"s":"04fe","k":"d","t":3.9,"y":42.47},{"s":"04fe","k":"d","t":5.5,"y":42.54},{"s":"04fe","k":"d","t":7,"y":42.59},{"s":"04fe","k":"d","t":10.4,"y":42.65},{"s":"04fe","k":"d","t":13.5,"y":42.62},{"s":"04fe","k":"d","t":15,"y":42.6},{"s":"04fe","k":"d","t":17,"y":42.55},{"s":"04fe","k":"d","t":19,"y":42.5},{"s":"04fe","k":"d","t":21.3,"y":42.43},{"s":"04fe","k":"d","t":25,"y":42.32},{"s":"04fe","k":"d","t":27.8,"y":42.25},{"s":"04fe","k":"d","t":30,"y":42.19},{"s":"04fe","k":"d","t":32.2,"y":42.13},{"s":"04fe","k":"d","t":34,"y":42.09},{"s":"04fe","k":"d","t":36.5,"y":42.04},{"s":"04fe","k":"d","t":38.5,"y":42.0},{"s":"04fe","k":"d","t":40.9,"y":41.96},{"s":"04fe","k":"d","t":43,"y":41.93},{"s":"04fe","k":"d","t":45.2,"y":41.89},{"s":"04fe","k":"d","t":47.5,"y":41.85},{"s":"04fe","k":"d","t":49.6,"y":41.8},
{"s":"04fe","k":"vd","t":17.8,"y":0.79},{"s":"04fe","k":"vd","t":26.5,"y":0.79},{"s":"04fe","k":"vd","t":43,"y":0.79},
{"s":"05aw","k":"d","t":9.6,"y":42.61},{"s":"05aw","k":"d","t":12,"y":42.6},{"s":"05aw","k":"d","t":15.2,"y":42.59},{"s":"05aw","k":"d","t":19.6,"y":42.53},{"s":"05aw","k":"d","t":28.3,"y":42.37},{"s":"05aw","k":"d","t":31,"y":42.32},{"s":"05aw","k":"d","t":35.7,"y":42.25},{"s":"05aw","k":"d","t":38,"y":42.2},{"s":"05aw","k":"d","t":40,"y":42.16},{"s":"05aw","k":"d","t":42.2,"y":42.13},
{"s":"05aw","k":"vd","t":17,"y":1.02},{"s":"05aw","k":"vd","t":22.6,"y":0.93},{"s":"05aw","k":"vd","t":29.1,"y":0.87},
{"s":"05bj","k":"d","t":21.3,"y":42.51},{"s":"05bj","k":"d","t":24,"y":42.48},{"s":"05bj","k":"d","t":27,"y":42.44},{"s":"05bj","k":"d","t":30,"y":42.4},{"s":"05bj","k":"d","t":33.5,"y":42.35},{"s":"05bj","k":"d","t":37.8,"y":42.31},{"s":"05bj","k":"d","t":58.7,"y":41.99},
{"s":"05bj","k":"vd","t":19.6,"y":1.34},{"s":"05bj","k":"vd","t":22.6,"y":0.93},
{"s":"05Q","k":"d","t":15.2,"y":42.61},{"s":"05Q","k":"d","t":19.6,"y":42.65},{"s":"05Q","k":"d","t":23.9,"y":42.61},{"s":"05Q","k":"d","t":27,"y":42.55},{"s":"05Q","k":"d","t":30,"y":42.47},{"s":"05Q","k":"d","t":33.5,"y":42.41},{"s":"05Q","k":"d","t":43,"y":42.23},
{"s":"05Q","k":"vd","t":18.3,"y":0.97},{"s":"05Q","k":"vd","t":27,"y":0.65},
{"s":"06fo","k":"d","t":19.1,"y":42.48},{"s":"06fo","k":"d","t":24.8,"y":42.48},{"s":"06fo","k":"d","t":30,"y":42.45},{"s":"06fo","k":"d","t":40.9,"y":42.3},{"s":"06fo","k":"d","t":43.9,"y":42.27},{"s":"06fo","k":"d","t":53.9,"y":42.18},{"s":"06fo","k":"d","t":57,"y":42.12},{"s":"06fo","k":"d","t":63.9,"y":42.02},{"s":"06fo","k":"d","t":82.2,"y":41.9},{"s":"06fo","k":"d","t":90,"y":41.84},
{"s":"06fo","k":"vd","t":20.4,"y":0.94},{"s":"06fo","k":"vd","t":36.5,"y":0.44},
{"s":"08gc","k":"d","t":20.4,"y":42.55},{"s":"08gc","k":"d","t":23.9,"y":42.48},{"s":"08gc","k":"d","t":26,"y":42.45},{"s":"08gc","k":"d","t":28.3,"y":42.42},{"s":"08gc","k":"d","t":39.1,"y":42.27},{"s":"08gc","k":"d","t":44.3,"y":42.23},{"s":"08gc","k":"d","t":47.8,"y":42.24},
{"s":"08gc","k":"vd","t":29.1,"y":0.62},{"s":"08gc","k":"vd","t":37,"y":0.44},{"s":"08gc","k":"vd","t":44.3,"y":0.62},
{"s":"08hh","k":"d","t":11.7,"y":42.33},{"s":"08hh","k":"d","t":16.1,"y":42.3},{"s":"08hh","k":"d","t":22.6,"y":42.17},{"s":"08hh","k":"d","t":31.3,"y":42.0},
{"s":"08hh","k":"vd","t":13,"y":1.21},{"s":"08hh","k":"vd","t":27,"y":0.9},{"s":"08hh","k":"vd","t":41.3,"y":0.97},
{"s":"08ik","k":"d","t":9.6,"y":42.87},{"s":"08ik","k":"d","t":24.8,"y":42.81},
{"s":"09ca","k":"d","t":11.7,"y":43.49},{"s":"09ca","k":"d","t":14.8,"y":43.43},{"s":"09ca","k":"d","t":20.4,"y":43.36},{"s":"09ca","k":"d","t":27.8,"y":43.28},{"s":"09ca","k":"d","t":36.5,"y":43.15},{"s":"09ca","k":"d","t":40.9,"y":43.09},{"s":"09ca","k":"d","t":45.2,"y":43.01},
{"s":"09ca","k":"vd","t":11.7,"y":1.45},{"s":"09ca","k":"vd","t":20.4,"y":1.37},{"s":"09ca","k":"vd","t":25.6,"y":1.37},
{"s":"06bf","k":"d","t":25.7,"y":42.16},{"s":"06bf","k":"d","t":32.6,"y":42.0},{"s":"06bf","k":"d","t":35.7,"y":41.94},{"s":"06bf","k":"d","t":41.3,"y":41.86},{"s":"06bf","k":"d","t":46.5,"y":41.76},{"s":"06bf","k":"d","t":51.7,"y":41.66},{"s":"06bf","k":"d","t":63,"y":41.6},{"s":"06bf","k":"d","t":71.7,"y":41.49},{"s":"06bf","k":"d","t":92.2,"y":41.31},
{"s":"06bf","k":"vd","t":26,"y":0.66},
{"s":"07ag","k":"d","t":13.9,"y":42.24},{"s":"07ag","k":"d","t":19.6,"y":42.21},{"s":"07ag","k":"d","t":24.8,"y":42.15},{"s":"07ag","k":"d","t":43.5,"y":41.82},{"s":"07ag","k":"d","t":90,"y":41.52},
{"s":"07ag","k":"vd","t":13.9,"y":0.85},{"s":"07ag","k":"vd","t":17,"y":0.68},
{"s":"07rz","k":"d","t":18.3,"y":42.37},{"s":"07rz","k":"d","t":21.3,"y":42.28},{"s":"07rz","k":"d","t":24.8,"y":42.18},{"s":"07rz","k":"d","t":28.3,"y":42.09},{"s":"07rz","k":"d","t":31.3,"y":42.0},{"s":"07rz","k":"d","t":42.2,"y":41.8},
{"s":"07rz","k":"vd","t":18.3,"y":0.66},{"s":"07rz","k":"vd","t":42.2,"y":1.0},
{"s":"04ew","k":"d","t":28.2,"y":42.35},{"s":"04ew","k":"d","t":31,"y":42.31},{"s":"04ew","k":"d","t":33.9,"y":42.26},{"s":"04ew","k":"d","t":36.8,"y":42.19},{"s":"04ew","k":"d","t":39.7,"y":42.14},{"s":"04ew","k":"d","t":41.7,"y":42.1},{"s":"04ew","k":"d","t":44,"y":42.08},{"s":"04ew","k":"d","t":46.8,"y":42.04},{"s":"04ew","k":"d","t":54.9,"y":41.95},{"s":"04ew","k":"d","t":59.8,"y":41.9},{"s":"04ew","k":"d","t":64,"y":41.84},{"s":"04ew","k":"d","t":69.8,"y":41.8},{"s":"04ew","k":"d","t":81.3,"y":41.72},{"s":"04ew","k":"d","t":84.2,"y":41.7},{"s":"04ew","k":"d","t":89.9,"y":41.65},{"s":"04ew","k":"d","t":105.7,"y":41.56},
{"s":"04ew","k":"vd","t":41,"y":0.54},{"s":"04ew","k":"vd","t":73.6,"y":0.65},{"s":"04ew","k":"vd","t":90,"y":0.55},{"s":"04ew","k":"vd","t":96.3,"y":0.52},
{"s":"09dp","k":"d","t":8.6,"y":42.83},{"s":"09dp","k":"d","t":17.2,"y":42.77},{"s":"09dp","k":"d","t":20.1,"y":42.75},{"s":"09dp","k":"d","t":23,"y":42.71},{"s":"09dp","k":"d","t":25.9,"y":42.67},{"s":"09dp","k":"d","t":28.7,"y":42.59},{"s":"09dp","k":"d","t":31,"y":42.53}
]},
"spacing": 0,
"resolve": {"scale": {"fill": "independent", "stroke": "independent", "shape": "independent"}},
"vconcat": [
{"spacing": 0, "vconcat": [
 {"transform": [{"filter": "indexof(['04ex','04ff','04gq','04gt'], datum.s) >= 0"}],
  "facet": {"column": {"field": "s", "sort": ["04ex","04ff","04gq","04gt"], "header": {"labels": false, "title": null}, "title": null}},
  "spec": {"width": 197, "height": 80,
   "encoding": {"x": {"field": "t", "type": "quantitative", "scale": {"domain": [-10, 160], "nice": false, "zero": false}, "axis": null},
     "y": {"field": "y", "type": "quantitative", "scale": {"domain": [40.63, 43.61], "nice": false, "zero": false}, "axis": {"values": [41, 42, 43], "title": null}}},
   "layer": [
    {"transform": [{"filter": "datum.k == 'm'"}], "mark": "line"},
    {"transform": [{"filter": "datum.k == 'd'"}], "mark": "point", "encoding": {
      "fill": {"field": "s", "type": "nominal", "scale": {"domain": ["04ex","04ff","04gq","04gt"], "range": ["#008000","#008000","#0000ff","#ff0000"]}},
      "stroke": {"field": "s", "type": "nominal", "scale": {"domain": ["04ex","04ff","04gq","04gt"], "range": ["#008000","#008000","#0000ff","#ff0000"]}},
      "shape": {"field": "s", "type": "nominal", "scale": {"domain": ["04ex","04ff","04gq","04gt"], "range": ["square","circle","square","square"]}}}},
    {"transform": [{"filter": "datum.k == 'm' && datum.y == 40.63"}], "mark": "text", "encoding": {"text": {"field": "s", "type": "nominal"}, "x": {"datum": 157}, "y": {"datum": 43.25}}}
   ]}},
 {"transform": [{"filter": "indexof(['04ex','04ff','04gq','04gt'], datum.s) >= 0"}],
  "facet": {"column": {"field": "s", "sort": ["04ex","04ff","04gq","04gt"], "header": {"labels": false, "title": null}, "title": null}},
  "spec": {"width": 197, "height": 34.5,
   "encoding": {"x": {"field": "t", "type": "quantitative", "scale": {"domain": [-10, 160], "nice": false, "zero": false}, "axis": null},
     "y": {"field": "y", "type": "quantitative", "scale": {"domain": [0.05, 2.07], "nice": false, "zero": false}, "axis": {"values": [0.5, 1.5], "format": ".1f", "title": null}}},
   "layer": [
    {"transform": [{"filter": "datum.k == 'vm'"}], "mark": "line"},
    {"transform": [{"filter": "datum.k == 'vd'"}], "mark": "point", "encoding": {"fill": {"field": "s", "type": "nominal"}, "stroke": {"field": "s", "type": "nominal"}, "shape": {"field": "s", "type": "nominal"}}}
   ]}}
]},
{"spacing": 0, "vconcat": [
 {"transform": [{"filter": "indexof(['04gv','05em','06ba','06ep'], datum.s) >= 0"}],
  "facet": {"column": {"field": "s", "sort": ["04gv","05em","06ba","06ep"], "header": {"labels": false, "title": null}, "title": null}},
  "spec": {"width": 197, "height": 80,
   "encoding": {"x": {"field": "t", "type": "quantitative", "scale": {"domain": [-10, 160], "nice": false, "zero": false}, "axis": null},
     "y": {"field": "y", "type": "quantitative", "scale": {"domain": [40.63, 43.61], "nice": false, "zero": false}, "axis": {"values": [41, 42, 43], "title": null}}},
   "layer": [
    {"transform": [{"filter": "datum.k == 'm'"}], "mark": "line"},
    {"transform": [{"filter": "datum.k == 'd'"}], "mark": "point", "encoding": {
      "fill": {"field": "s", "type": "nominal", "scale": {"domain": ["04gv","05em","06ba","06ep"], "range": ["#0000ff","#ff0000","transparent","#0000ff"]}},
      "stroke": {"field": "s", "type": "nominal", "scale": {"domain": ["04gv","05em","06ba","06ep"], "range": ["#0000ff","#ff0000","#008000","#0000ff"]}},
      "shape": {"field": "s", "type": "nominal", "scale": {"domain": ["04gv","05em","06ba","06ep"], "range": ["circle","circle","M0,-1V1M-0.87,-0.5L0.87,0.5M-0.87,0.5L0.87,-0.5","M0,-1L0.62,0L0,1L-0.62,0Z"]}}}},
    {"transform": [{"filter": "datum.k == 'm' && datum.y == 40.63"}], "mark": "text", "encoding": {"text": {"field": "s", "type": "nominal"}, "x": {"datum": 157}, "y": {"datum": 43.25}}}
   ]}},
 {"transform": [{"filter": "indexof(['04gv','05em','06ba','06ep'], datum.s) >= 0"}],
  "facet": {"column": {"field": "s", "sort": ["04gv","05em","06ba","06ep"], "header": {"labels": false, "title": null}, "title": null}},
  "spec": {"width": 197, "height": 34.5,
   "encoding": {"x": {"field": "t", "type": "quantitative", "scale": {"domain": [-10, 160], "nice": false, "zero": false}, "axis": null},
     "y": {"field": "y", "type": "quantitative", "scale": {"domain": [0.05, 2.07], "nice": false, "zero": false}, "axis": {"values": [0.5, 1.5], "format": ".1f", "title": null}}},
   "layer": [
    {"transform": [{"filter": "datum.k == 'vm'"}], "mark": "line"},
    {"transform": [{"filter": "datum.k == 'vd'"}], "mark": "point", "encoding": {"fill": {"field": "s", "type": "nominal"}, "stroke": {"field": "s", "type": "nominal"}, "shape": {"field": "s", "type": "nominal"}}}
   ]}}
]},
{"spacing": 0, "vconcat": [
 {"transform": [{"filter": "indexof(['06ir','06lc','06T','07C'], datum.s) >= 0"}],
  "facet": {"column": {"field": "s", "sort": ["06ir","06lc","06T","07C"], "header": {"labels": false, "title": null}, "title": null}},
  "spec": {"width": 197, "height": 80,
   "encoding": {"x": {"field": "t", "type": "quantitative", "scale": {"domain": [-10, 160], "nice": false, "zero": false}, "axis": null},
     "y": {"field": "y", "type": "quantitative", "scale": {"domain": [40.63, 43.61], "nice": false, "zero": false}, "axis": {"values": [41, 42, 43], "title": null}}},
   "layer": [
    {"transform": [{"filter": "datum.k == 'm'"}], "mark": "line"},
    {"transform": [{"filter": "datum.k == 'd'"}], "mark": "point", "encoding": {
      "fill": {"field": "s", "type": "nominal", "scale": {"domain": ["06ir","06lc","06T","07C"], "range": ["#ff0000","#0000ff","#008000","#0000ff"]}},
      "stroke": {"field": "s", "type": "nominal", "scale": {"domain": ["06ir","06lc","06T","07C"], "range": ["#ff0000","#0000ff","#008000","#0000ff"]}},
      "shape": {"field": "s", "type": "nominal", "scale": {"domain": ["06ir","06lc","06T","07C"], "range": ["M0,-1L0.62,0L0,1L-0.62,0Z","M0,-1L0.22,-0.31L0.95,-0.31L0.36,0.12L0.59,0.81L0,0.38L-0.59,0.81L-0.36,0.12L-0.95,-0.31L-0.22,-0.31Z","triangle-down","triangle-down"]}}}},
    {"transform": [{"filter": "datum.k == 'm' && datum.y == 40.63"}], "mark": "text", "encoding": {"text": {"field": "s", "type": "nominal"}, "x": {"datum": 157}, "y": {"datum": 43.25}}}
   ]}},
 {"transform": [{"filter": "indexof(['06ir','06lc','06T','07C'], datum.s) >= 0"}],
  "facet": {"column": {"field": "s", "sort": ["06ir","06lc","06T","07C"], "header": {"labels": false, "title": null}, "title": null}},
  "spec": {"width": 197, "height": 34.5,
   "encoding": {"x": {"field": "t", "type": "quantitative", "scale": {"domain": [-10, 160], "nice": false, "zero": false}, "axis": null},
     "y": {"field": "y", "type": "quantitative", "scale": {"domain": [0.05, 2.07], "nice": false, "zero": false}, "axis": {"values": [0.5, 1.5], "format": ".1f", "title": null}}},
   "layer": [
    {"transform": [{"filter": "datum.k == 'vm'"}], "mark": "line"},
    {"transform": [{"filter": "datum.k == 'vd'"}], "mark": "point", "encoding": {"fill": {"field": "s", "type": "nominal"}, "stroke": {"field": "s", "type": "nominal"}, "shape": {"field": "s", "type": "nominal"}}}
   ]}}
]},
{"spacing": 0, "vconcat": [
 {"transform": [{"filter": "indexof(['07hn','07kj','07Y','08aq'], datum.s) >= 0"}],
  "facet": {"column": {"field": "s", "sort": ["07hn","07kj","07Y","08aq"], "header": {"labels": false, "title": null}, "title": null}},
  "spec": {"width": 197, "height": 80,
   "encoding": {"x": {"field": "t", "type": "quantitative", "scale": {"domain": [-10, 160], "nice": false, "zero": false}, "axis": null},
     "y": {"field": "y", "type": "quantitative", "scale": {"domain": [40.63, 43.61], "nice": false, "zero": false}, "axis": {"values": [41, 42, 43], "title": null}}},
   "layer": [
    {"transform": [{"filter": "datum.k == 'm'"}], "mark": "line"},
    {"transform": [{"filter": "datum.k == 'd'"}], "mark": "point", "encoding": {
      "fill": {"field": "s", "type": "nominal", "scale": {"domain": ["07hn","07kj","07Y","08aq"], "range": ["#ff0000","#0000ff","#0000ff","#008000"]}},
      "stroke": {"field": "s", "type": "nominal", "scale": {"domain": ["07hn","07kj","07Y","08aq"], "range": ["#ff0000","#0000ff","#0000ff","#008000"]}},
      "shape": {"field": "s", "type": "nominal", "scale": {"domain": ["07hn","07kj","07Y","08aq"], "range": ["triangle-down","triangle-up","triangle-right","triangle-up"]}}}},
    {"transform": [{"filter": "datum.k == 'm' && datum.y == 40.63"}], "mark": "text", "encoding": {"text": {"field": "s", "type": "nominal"}, "x": {"datum": 157}, "y": {"datum": 43.25}}}
   ]}},
 {"transform": [{"filter": "indexof(['07hn','07kj','07Y','08aq'], datum.s) >= 0"}],
  "facet": {"column": {"field": "s", "sort": ["07hn","07kj","07Y","08aq"], "header": {"labels": false, "title": null}, "title": null}},
  "spec": {"width": 197, "height": 34.5,
   "encoding": {"x": {"field": "t", "type": "quantitative", "scale": {"domain": [-10, 160], "nice": false, "zero": false}, "axis": null},
     "y": {"field": "y", "type": "quantitative", "scale": {"domain": [0.05, 2.07], "nice": false, "zero": false}, "axis": {"values": [0.5, 1.5], "format": ".1f", "title": null}}},
   "layer": [
    {"transform": [{"filter": "datum.k == 'vm'"}], "mark": "line"},
    {"transform": [{"filter": "datum.k == 'vd'"}], "mark": "point", "encoding": {"fill": {"field": "s", "type": "nominal"}, "stroke": {"field": "s", "type": "nominal"}, "shape": {"field": "s", "type": "nominal"}}}
   ]}}
]},
{"spacing": 0, "vconcat": [
 {"transform": [{"filter": "indexof(['09bb','09dt','09K','09Z'], datum.s) >= 0"}],
  "facet": {"column": {"field": "s", "sort": ["09bb","09dt","09K","09Z"], "header": {"labels": false, "title": null}, "title": null}},
  "spec": {"width": 197, "height": 80,
   "encoding": {"x": {"field": "t", "type": "quantitative", "scale": {"domain": [-10, 160], "nice": false, "zero": false}, "axis": null},
     "y": {"field": "y", "type": "quantitative", "scale": {"domain": [40.63, 43.61], "nice": false, "zero": false}, "axis": {"values": [41, 42, 43], "title": null}}},
   "layer": [
    {"transform": [{"filter": "datum.k == 'm'"}], "mark": "line"},
    {"transform": [{"filter": "datum.k == 'd'"}], "mark": "point", "encoding": {
      "fill": {"field": "s", "type": "nominal", "scale": {"domain": ["09bb","09dt","09K","09Z"], "range": ["#ff00ff","#ff0000","#008000","#008000"]}},
      "stroke": {"field": "s", "type": "nominal", "scale": {"domain": ["09bb","09dt","09K","09Z"], "range": ["#ff00ff","#ff0000","#008000","#008000"]}},
      "shape": {"field": "s", "type": "nominal", "scale": {"domain": ["09bb","09dt","09K","09Z"], "range": ["square","triangle-right","triangle-right","M0,-1L0.62,0L0,1L-0.62,0Z"]}}}},
    {"transform": [{"filter": "datum.k == 'm' && datum.y == 40.63"}], "mark": "text", "encoding": {"text": {"field": "s", "type": "nominal"}, "x": {"datum": 157}, "y": {"datum": 43.25}}}
   ]}},
 {"transform": [{"filter": "indexof(['09bb','09dt','09K','09Z'], datum.s) >= 0"}],
  "facet": {"column": {"field": "s", "sort": ["09bb","09dt","09K","09Z"], "header": {"labels": false, "title": null}, "title": null}},
  "spec": {"width": 197, "height": 34.5,
   "encoding": {"x": {"field": "t", "type": "quantitative", "scale": {"domain": [-10, 160], "nice": false, "zero": false}, "axis": null},
     "y": {"field": "y", "type": "quantitative", "scale": {"domain": [0.05, 2.07], "nice": false, "zero": false}, "axis": {"values": [0.5, 1.5], "format": ".1f", "title": null}}},
   "layer": [
    {"transform": [{"filter": "datum.k == 'vm'"}], "mark": "line"},
    {"transform": [{"filter": "datum.k == 'vd'"}], "mark": "point", "encoding": {"fill": {"field": "s", "type": "nominal"}, "stroke": {"field": "s", "type": "nominal"}, "shape": {"field": "s", "type": "nominal"}}}
   ]}}
]},
{"spacing": 0, "vconcat": [
 {"transform": [{"filter": "indexof(['04fe','05aw','05bj','05Q'], datum.s) >= 0"}],
  "facet": {"column": {"field": "s", "sort": ["04fe","05aw","05bj","05Q"], "header": {"labels": false, "title": null}, "title": null}},
  "spec": {"width": 197, "height": 80,
   "encoding": {"x": {"field": "t", "type": "quantitative", "scale": {"domain": [-10, 160], "nice": false, "zero": false}, "axis": null},
     "y": {"field": "y", "type": "quantitative", "scale": {"domain": [40.63, 43.61], "nice": false, "zero": false}, "axis": {"values": [41, 42, 43], "title": null}}},
   "layer": [
    {"transform": [{"filter": "datum.k == 'm'"}], "mark": "line"},
    {"transform": [{"filter": "datum.k == 'd'"}], "mark": "point", "encoding": {
      "fill": {"field": "s", "type": "nominal", "scale": {"domain": ["04fe","05aw","05bj","05Q"], "range": ["#ff0000","transparent","transparent","#008000"]}},
      "stroke": {"field": "s", "type": "nominal", "scale": {"domain": ["04fe","05aw","05bj","05Q"], "range": ["#ff0000","#ff0000","#008000","#008000"]}},
      "shape": {"field": "s", "type": "nominal", "scale": {"domain": ["04fe","05aw","05bj","05Q"], "range": ["triangle-left","M0,-1V1M-0.87,-0.5L0.87,0.5M-0.87,0.5L0.87,-0.5","M-1,0H1M0,-1V1","circle"]}}}},
    {"transform": [{"filter": "datum.k == 'm' && datum.y == 40.63"}], "mark": "text", "encoding": {"text": {"field": "s", "type": "nominal"}, "x": {"datum": 157}, "y": {"datum": 43.25}}}
   ]}},
 {"transform": [{"filter": "indexof(['04fe','05aw','05bj','05Q'], datum.s) >= 0"}],
  "facet": {"column": {"field": "s", "sort": ["04fe","05aw","05bj","05Q"], "header": {"labels": false, "title": null}, "title": null}},
  "spec": {"width": 197, "height": 34.5,
   "encoding": {"x": {"field": "t", "type": "quantitative", "scale": {"domain": [-10, 160], "nice": false, "zero": false}, "axis": null},
     "y": {"field": "y", "type": "quantitative", "scale": {"domain": [0.05, 2.07], "nice": false, "zero": false}, "axis": {"values": [0.5, 1.5], "format": ".1f", "title": null}}},
   "layer": [
    {"transform": [{"filter": "datum.k == 'vm'"}], "mark": "line"},
    {"transform": [{"filter": "datum.k == 'vd'"}], "mark": "point", "encoding": {"fill": {"field": "s", "type": "nominal"}, "stroke": {"field": "s", "type": "nominal"}, "shape": {"field": "s", "type": "nominal"}}}
   ]}}
]},
{"spacing": 0, "vconcat": [
 {"transform": [{"filter": "indexof(['06fo','08gc','08hh','08ik'], datum.s) >= 0"}],
  "facet": {"column": {"field": "s", "sort": ["06fo","08gc","08hh","08ik"], "header": {"labels": false, "title": null}, "title": null}},
  "spec": {"width": 197, "height": 80,
   "encoding": {"x": {"field": "t", "type": "quantitative", "scale": {"domain": [-10, 160], "nice": false, "zero": false}, "axis": null},
     "y": {"field": "y", "type": "quantitative", "scale": {"domain": [40.63, 43.61], "nice": false, "zero": false}, "axis": {"values": [41, 42, 43], "title": null}}},
   "layer": [
    {"transform": [{"filter": "datum.k == 'm'"}], "mark": "line"},
    {"transform": [{"filter": "datum.k == 'd'"}], "mark": "point", "encoding": {
      "fill": {"field": "s", "type": "nominal", "scale": {"domain": ["06fo","08gc","08hh","08ik"], "range": ["transparent","transparent","transparent","transparent"]}},
      "stroke": {"field": "s", "type": "nominal", "scale": {"domain": ["06fo","08gc","08hh","08ik"], "range": ["#0000ff","#0000ff","#ff0000","#ff0000"]}},
      "shape": {"field": "s", "type": "nominal", "scale": {"domain": ["06fo","08gc","08hh","08ik"], "range": ["M-1,0H1M0,-1V1","M-0.75,-0.75L0.75,0.75M-0.75,0.75L0.75,-0.75","M-1,0H1M0,-1V1","M-0.75,-0.75L0.75,0.75M-0.75,0.75L0.75,-0.75"]}}}},
    {"transform": [{"filter": "datum.k == 'm' && datum.y == 40.63"}], "mark": "text", "encoding": {"text": {"field": "s", "type": "nominal"}, "x": {"datum": 157}, "y": {"datum": 43.25}}}
   ]}},
 {"transform": [{"filter": "indexof(['06fo','08gc','08hh','08ik'], datum.s) >= 0"}],
  "facet": {"column": {"field": "s", "sort": ["06fo","08gc","08hh","08ik"], "header": {"labels": false, "title": null}, "title": null}},
  "spec": {"width": 197, "height": 34.5,
   "encoding": {"x": {"field": "t", "type": "quantitative", "scale": {"domain": [-10, 160], "nice": false, "zero": false}, "axis": null},
     "y": {"field": "y", "type": "quantitative", "scale": {"domain": [0.05, 2.07], "nice": false, "zero": false}, "axis": {"values": [0.5, 1.5], "format": ".1f", "title": null}}},
   "layer": [
    {"transform": [{"filter": "datum.k == 'vm'"}], "mark": "line"},
    {"transform": [{"filter": "datum.k == 'vd'"}], "mark": "point", "encoding": {"fill": {"field": "s", "type": "nominal"}, "stroke": {"field": "s", "type": "nominal"}, "shape": {"field": "s", "type": "nominal"}}}
   ]}}
]},
{"spacing": 0, "vconcat": [
 {"transform": [{"filter": "indexof(['09ca','06bf','07ag','07rz'], datum.s) >= 0"}],
  "facet": {"column": {"field": "s", "sort": ["09ca","06bf","07ag","07rz"], "header": {"labels": false, "title": null}, "title": null}},
  "spec": {"width": 197, "height": 80,
   "encoding": {"x": {"field": "t", "type": "quantitative", "scale": {"domain": [-10, 160], "nice": false, "zero": false}, "axis": null},
     "y": {"field": "y", "type": "quantitative", "scale": {"domain": [40.63, 43.61], "nice": false, "zero": false}, "axis": {"values": [41, 42, 43], "title": null}}},
   "layer": [
    {"transform": [{"filter": "datum.k == 'm'"}], "mark": "line"},
    {"transform": [{"filter": "datum.k == 'd'"}], "mark": "point", "encoding": {
      "fill": {"field": "s", "type": "nominal", "scale": {"domain": ["09ca","06bf","07ag","07rz"], "range": ["transparent","#008000","#ff0000","#ff0000"]}},
      "stroke": {"field": "s", "type": "nominal", "scale": {"domain": ["09ca","06bf","07ag","07rz"], "range": ["#ff00ff","#008000","#ff0000","#ff0000"]}},
      "shape": {"field": "s", "type": "nominal", "scale": {"domain": ["09ca","06bf","07ag","07rz"], "range": ["M0,-1V1M-0.87,-0.5L0.87,0.5M-0.87,0.5L0.87,-0.5","M0,-1L0.22,-0.31L0.95,-0.31L0.36,0.12L0.59,0.81L0,0.38L-0.59,0.81L-0.36,0.12L-0.95,-0.31L-0.22,-0.31Z","M0,-1L0.22,-0.31L0.95,-0.31L0.36,0.12L0.59,0.81L0,0.38L-0.59,0.81L-0.36,0.12L-0.95,-0.31L-0.22,-0.31Z","triangle-up"]}}}},
    {"transform": [{"filter": "datum.k == 'm' && datum.y == 40.63"}], "mark": "text", "encoding": {"text": {"field": "s", "type": "nominal"}, "x": {"datum": 157}, "y": {"datum": 43.25}}}
   ]}},
 {"transform": [{"filter": "indexof(['09ca','06bf','07ag','07rz'], datum.s) >= 0"}],
  "facet": {"column": {"field": "s", "sort": ["09ca","06bf","07ag","07rz"], "header": {"labels": false, "title": null}, "title": null}},
  "spec": {"width": 197, "height": 34.5,
   "encoding": {"x": {"field": "t", "type": "quantitative", "scale": {"domain": [-10, 160], "nice": false, "zero": false}, "axis": null},
     "y": {"field": "y", "type": "quantitative", "scale": {"domain": [0.05, 2.07], "nice": false, "zero": false}, "axis": {"values": [0.5, 1.5], "format": ".1f", "title": null}}},
   "layer": [
    {"transform": [{"filter": "datum.k == 'vm'"}], "mark": "line"},
    {"transform": [{"filter": "datum.k == 'vd'"}], "mark": "point", "encoding": {"fill": {"field": "s", "type": "nominal"}, "stroke": {"field": "s", "type": "nominal"}, "shape": {"field": "s", "type": "nominal"}}}
   ]}}
]},
{"spacing": 0,
 "title": {"text": "Rest-frame days since explosion", "orient": "bottom", "anchor": "middle", "frame": "group", "dx": 172, "offset": 1, "font": "DejaVu Serif", "fontSize": 11.5, "fontWeight": "bold", "color": "black"},
 "vconcat": [
 {"transform": [{"filter": "indexof(['04ew','09dp'], datum.s) >= 0"}],
  "facet": {"column": {"field": "s", "sort": ["04ew","09dp"], "header": {"labels": false, "title": null}, "title": null}},
  "spec": {"width": 197, "height": 80,
   "encoding": {"x": {"field": "t", "type": "quantitative", "scale": {"domain": [-10, 160], "nice": false, "zero": false}, "axis": null},
     "y": {"field": "y", "type": "quantitative", "scale": {"domain": [40.63, 43.61], "nice": false, "zero": false}, "axis": {"values": [41, 42, 43], "title": null}}},
   "layer": [
    {"transform": [{"filter": "datum.k == 'm'"}], "mark": "line"},
    {"transform": [{"filter": "datum.k == 'd'"}], "mark": "point", "encoding": {
      "fill": {"field": "s", "type": "nominal", "scale": {"domain": ["04ew","09dp"], "range": ["#0000ff","transparent"]}},
      "stroke": {"field": "s", "type": "nominal", "scale": {"domain": ["04ew","09dp"], "range": ["#0000ff","#ff0000"]}},
      "shape": {"field": "s", "type": "nominal", "scale": {"domain": ["04ew","09dp"], "range": ["M-0.3,-0.3H0.3V0.3H-0.3Z","M0,-1V1M-0.87,-0.5L0.87,0.5M-0.87,0.5L0.87,-0.5"]}}}},
    {"transform": [{"filter": "datum.k == 'm' && datum.y == 40.63"}], "mark": "text", "encoding": {"text": {"field": "s", "type": "nominal"}, "x": {"datum": 157}, "y": {"datum": 43.25}}}
   ]}},
 {"transform": [{"filter": "indexof(['04ew','09dp'], datum.s) >= 0"}],
  "facet": {"column": {"field": "s", "sort": ["04ew","09dp"], "header": {"labels": false, "title": null}, "title": null}},
  "spec": {"width": 197, "height": 34.5,
   "encoding": {"x": {"field": "t", "type": "quantitative", "scale": {"domain": [-10, 160], "nice": false, "zero": false}, "axis": {"values": [0, 50, 100, 150], "title": null, "labelPadding": 7}},
     "y": {"field": "y", "type": "quantitative", "scale": {"domain": [0.05, 2.07], "nice": false, "zero": false}, "axis": {"values": [0.5, 1.5], "format": ".1f", "title": null}}},
   "layer": [
    {"transform": [{"filter": "datum.k == 'vm'"}], "mark": "line"},
    {"transform": [{"filter": "datum.k == 'vd'"}], "mark": "point", "encoding": {"fill": {"field": "s", "type": "nominal"}, "stroke": {"field": "s", "type": "nominal"}, "shape": {"field": "s", "type": "nominal"}}}
   ]}}
]}
],
"config": {
  "view": {"stroke": "black", "strokeWidth": 2},
  "legend": {"disable": true},
  "facet": {"spacing": 0},
  "axis": {"labelFont": "DejaVu Serif", "labelFontWeight": "bold", "labelFontSize": 12, "labelColor": "black",
    "titleFont": "DejaVu Serif", "titleFontWeight": "bold", "titleFontSize": 11.5, "titleColor": "black",
    "tickColor": "black", "tickWidth": 1.5, "tickSize": -5, "labelPadding": 9, "domain": false, "grid": false},
  "line": {"strokeDash": [5, 4], "color": "#555555", "strokeWidth": 1, "interpolate": "monotone"},
  "point": {"size": 52, "strokeWidth": 1, "opacity": 1},
  "text": {"align": "right", "baseline": "middle", "font": "DejaVu Serif", "fontWeight": "bold", "fontSize": 12.5, "color": "black"}
}
}
